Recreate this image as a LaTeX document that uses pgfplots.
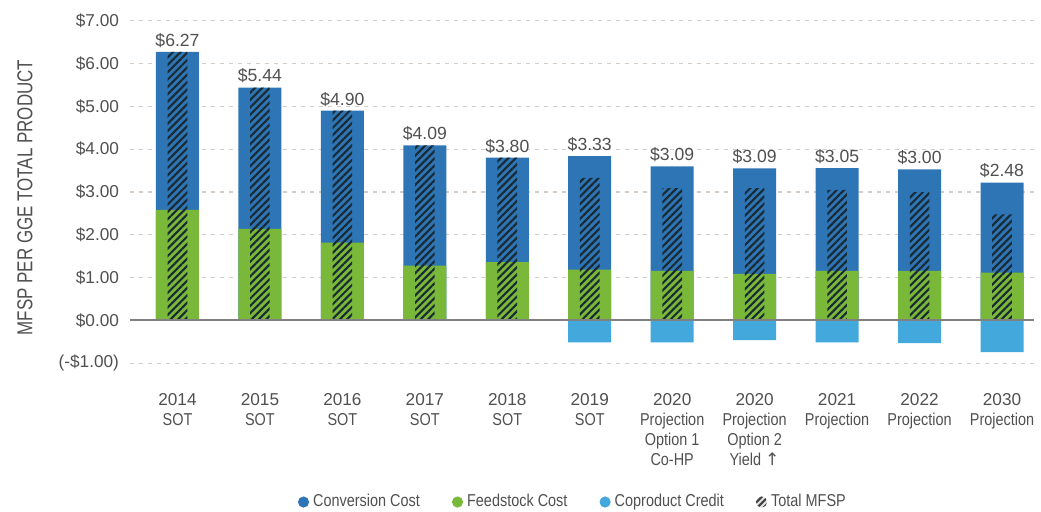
\documentclass[border=0pt]{standalone}
\usepackage{pgfplots}
\pgfplotsset{compat=1.18}
\usepackage{pgfplotstable}
\usetikzlibrary{patterns.meta}
\usepackage{fontspec}
\setmainfont{Liberation Sans}
\newfontfamily\cond{Liberation Sans}[FakeStretch=0.84]
\newfontfamily\condd{Liberation Sans}[FakeStretch=0.785]
\newfontfamily\dejavu{DejaVu Sans}
\definecolor{cblue}{HTML}{2E75B6}
\definecolor{cgreen}{HTML}{7AB83A}
\definecolor{clight}{HTML}{43A8DB}
\definecolor{ctext}{HTML}{505050}
\definecolor{cgrid}{HTML}{D6CCC6}
\definecolor{czero}{HTML}{808080}
\definecolor{chatch}{HTML}{1A2A33}

\pgfplotstableread{
x feed top cop total lab
0 2.58 6.27 0 6.27 6.27
1 2.14 5.44 0 5.44 5.44
2 1.82 4.90 0 4.90 4.90
3 1.28 4.09 0 4.09 4.09
4 1.36 3.80 0 3.80 3.80
5 1.19 3.84 -0.51 3.33 3.33
6 1.16 3.60 -0.51 3.09 3.09
7 1.09 3.55 -0.46 3.09 3.09
8 1.16 3.56 -0.51 3.05 3.05
9 1.16 3.53 -0.53 3.00 3.00
10 1.12 3.22 -0.74 2.48 2.48
}\data

\begin{document}
\begin{tikzpicture}
\path[use as bounding box] (-65pt,-74.35pt) rectangle (455.5pt,181.65pt);
\begin{axis}[
  at={(0,0)}, anchor=south west,
  scale only axis, width=452pt, height=171.3pt,
  xmin=-0.576, xmax=10.388, ymin=-1, ymax=7,
  axis line style={draw=none}, tick style={draw=none},
  ytick={-1,0,...,7},
  yticklabels={(-\$1.00),\$0.00,\$1.00,\$2.00,\$3.00,\$4.00,\$5.00,\$6.00,\$7.00},
  yticklabel style={font=\fontsize{8.6}{10}\selectfont, text=ctext, xshift=-2pt},
  ymajorgrids, grid style={cgrid, dash pattern=on 2pt off 2.5pt, line width=0.6pt},
  xtick={0,...,10},
  xticklabels={2014\\{\cond SOT},2015\\{\cond SOT},2016\\{\cond SOT},2017\\{\cond SOT},2018\\{\cond SOT},2019\\{\cond SOT},
    2020\\{\cond Projection}\\{\cond Option 1}\\{\cond Co-HP},
    2020\\{\cond Projection}\\{\cond Option 2}\\{\cond Yield {\dejavu\fontsize{8.6}{10}\selectfont ↑}},
    2021\\{\cond Projection},2022\\{\cond Projection},2030\\{\cond Projection}},
  xticklabel style={align=center, anchor=north, font=\fontsize{8.6}{10}\selectfont, text=ctext, yshift=-11.5pt},
  ylabel={\condd MFSP PER GGE TOTAL PRODUCT},
  every axis y label/.style={at={(axis description cs:-0.1162,0.484)}, rotate=90, anchor=center, font=\fontsize{10.8}{13}\selectfont, text=ctext},
  legend style={at={(axis description cs:0.491,-0.405)}, anchor=center, draw=none, fill=none,
    legend columns=-1, font=\cond\fontsize{8.6}{10}\selectfont, text=ctext,
    /tikz/every even column/.append style={column sep=14pt}},
]
\addplot[ybar, bar width=21.5pt, bar shift=0pt, fill=cblue, draw=none,
  legend image code/.code={\fill[cblue] (2.7pt,0pt) circle (2.8pt);}]
  table[x=x,y=top]{\data};
\addlegendentry{Conversion Cost}
\addplot[ybar, bar width=21.5pt, bar shift=0pt, fill=cgreen, draw=none,
  legend image code/.code={\fill[cgreen] (2.7pt,0pt) circle (2.8pt);}]
  table[x=x,y=feed]{\data};
\addlegendentry{Feedstock Cost}
\addplot[ybar, bar width=21.5pt, bar shift=0pt, fill=clight, draw=none,
  legend image code/.code={\fill[clight] (2.7pt,0pt) circle (2.8pt);}]
  table[x=x,y=cop]{\data};
\addlegendentry{Coproduct Credit}
\addplot[ybar, bar width=9.8pt, bar shift=0pt, draw=none,
  pattern={Lines[angle=45,distance=2.6pt,line width=1.05pt]}, pattern color=chatch, fill opacity=0.55,
  legend image code/.code={\fill[black!20] (2.7pt,0pt) circle (2.8pt);
     \fill[pattern={Lines[angle=45,distance=2.2pt,line width=1.1pt]}, pattern color=black!75] (2.7pt,0pt) circle (2.8pt);}]
  table[x=x,y=total]{\data};
\addlegendentry{Total MFSP}
\addplot[forget plot, draw=czero, line width=1pt] coordinates {(-0.576,0) (10.388,0)};
\addplot[forget plot, draw=none, mark=none, point meta=explicit symbolic,
  nodes near coords={\$\pgfplotspointmeta},
  nodes near coords style={anchor=south, inner sep=2pt, font=\fontsize{8.8}{10}\selectfont, text=ctext}]
  table[x=x,y=top,meta=lab]{\data};
\end{axis}
\end{tikzpicture}
\end{document}
